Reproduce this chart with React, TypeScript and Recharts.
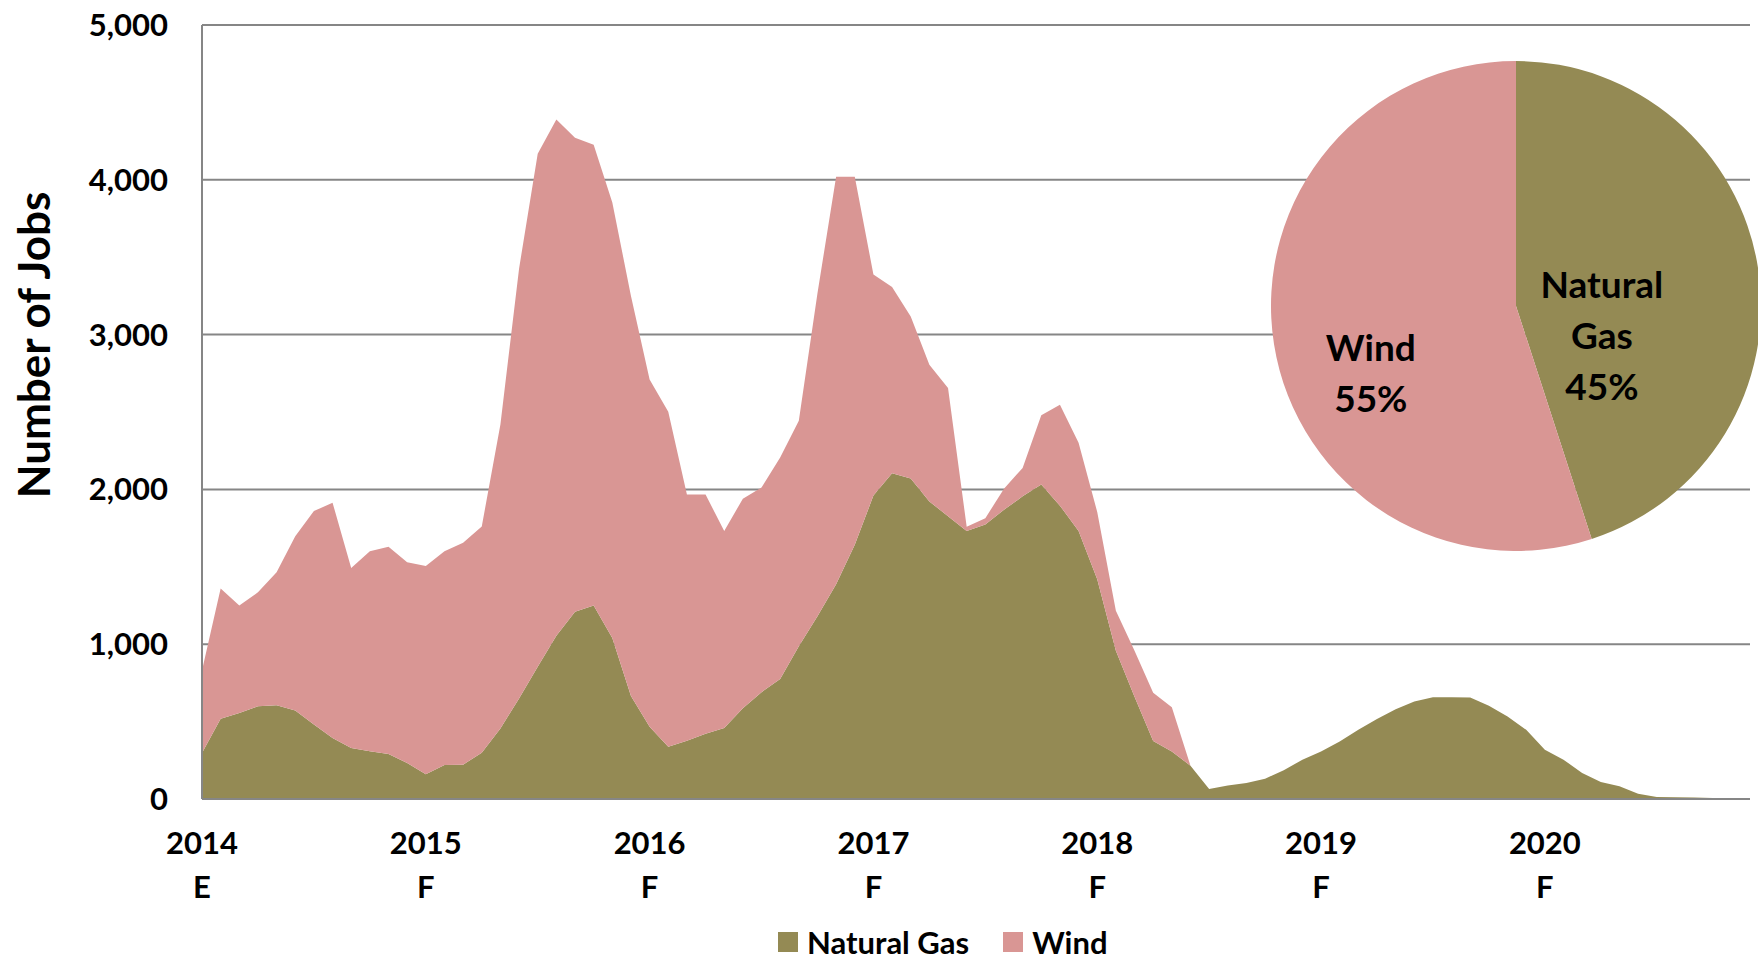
import { Area, AreaChart, CartesianGrid, Cell, Legend, Pie, PieChart, XAxis, YAxis } from 'recharts';

const FONT = 'Lato, "DejaVu Sans", sans-serif';

// category labels
const years = ['2014', '2015', '2016', '2017', '2018', '2019', '2020'];
const yearTags = ['E', 'F', 'F', 'F', 'F', 'F', 'F'];
const monthNames = ['Jan', 'Feb', 'Mar', 'Apr', 'May', 'Jun', 'Jul', 'Aug', 'Sep', 'Oct', 'Nov', 'Dec'];
const yTicks = [0, 1000, 2000, 3000, 4000, 5000];

// monthly jobs, Jan 2014 .. Dec 2020
const naturalGas = [
  297, 519, 556, 599, 606, 571, 481, 394, 330, 308, 291, 233,
  160, 220, 222, 298, 455, 650, 855, 1055, 1210, 1250, 1040, 665,
  466, 337, 376, 422, 458, 586, 690, 776, 987, 1180, 1388, 1642,
  1960, 2104, 2071, 1922, 1827, 1732, 1773, 1868, 1955, 2031, 1895, 1732,
  1420, 958, 660, 375, 307, 215, 65, 88, 103, 131, 185, 254,
  307, 372, 447, 516, 580, 630, 658, 658, 656, 602, 533, 447,
  318, 254, 168, 110, 82, 34, 13, 11, 9, 6, null, null,
];

const wind = [
  533, 841, 694, 736, 859, 1127, 1379, 1520, 1163, 1293, 1338, 1297,
  1345, 1380, 1433, 1462, 1965, 2776, 3313, 3334, 3062, 2977, 2813, 2585,
  2244, 2165, 1591, 1545, 1273, 1354, 1322, 1430, 1456, 2087, 2632, 2378,
  1428, 1203, 1046, 883, 828, 27, 41, 136, 184, 448, 652, 570,
  434, 258, 298, 312, 285, 0, 0, 0, 0, 0, 0, 0,
  0, 0, 0, 0, 0, 0, 0, 0, 0, 0, 0, 0,
  0, 0, 0, 0, 0, 0, 0, 0, 0, 0, null, null,
];

// share of total jobs (inset pie)
const shareNames = ['Natural Gas', 'Wind'];
const shareValues = [45, 55];

const COLORS: Record<string, string> = { 'Natural Gas': '#948A54', Wind: '#D99694' };
const GRID = '#868686';

const months = years.flatMap((y) => monthNames.map((m) => `${m} ${y}`));
const data = months.map((month, i) => ({ month, 'Natural Gas': naturalGas[i], Wind: wind[i] }));
const yearTicks = years.map((y) => `Jan ${y}`);
const pieData = shareNames.map((name, i) => ({ name, value: shareValues[i] }));

function YearTick({ x, y, payload }: any) {
  const idx = yearTicks.indexOf(payload.value);
  const style = { fontFamily: FONT, fontWeight: 700, fontSize: 31, fill: '#000' };
  return (
    <g>
      <text x={x} y={y + 55} textAnchor='middle' {...style}>
        {years[idx]}
      </text>
      <text x={x} y={y + 99} textAnchor='middle' {...style}>
        {yearTags[idx]}
      </text>
    </g>
  );
}

function AxisTitle({ viewBox }: any) {
  const x = viewBox.x + 33;
  const y = viewBox.y + 320;
  return (
    <text
      x={x}
      y={y}
      transform={`rotate(-90 ${x} ${y})`}
      textAnchor='middle'
      dominantBaseline='central'
      fontFamily={FONT}
      fontWeight={700}
      fontSize={44}
      fill='#000'
    >
      Number of Jobs
    </text>
  );
}

function LegendContent({ payload }: any) {
  return (
    <div
      style={{
        display: 'flex',
        alignItems: 'center',
        height: 40,
        paddingTop: 2,
        paddingLeft: 778,
        boxSizing: 'border-box',
        fontFamily: FONT,
        fontWeight: 700,
        fontSize: 31,
        lineHeight: '31px',
        color: '#000',
      }}
    >
      {(payload || []).map((p: any) => (
        <div key={p.value} style={{ display: 'flex', alignItems: 'center', marginRight: 34 }}>
          <span style={{ width: 20, height: 20, background: COLORS[p.value], marginRight: 9 }} />
          <span>{p.value}</span>
        </div>
      ))}
    </div>
  );
}

// how deep into the slice each label sits (fraction of radius)
const labelDepth: Record<string, number> = { 'Natural Gas': 0.355, Wind: 0.6 };

function PieLabel(props: any) {
  const { cx, cy, midAngle, outerRadius, name, percent } = props;
  const RAD = Math.PI / 180;
  const r = outerRadius * labelDepth[name];
  const x = cx + r * Math.cos(-midAngle * RAD);
  const y = cy + r * Math.sin(-midAngle * RAD) + outerRadius * 0.18;
  const lines = [...String(name).split(' '), `${Math.round(percent * 100)}%`];
  const lh = 51;
  const first = y - ((lines.length - 1) * lh) / 2 + 13;
  return (
    <text x={x} y={first} textAnchor='middle' fontFamily={FONT} fontWeight={700} fontSize={37} fill='#000'>
      {lines.map((l, i) => (
        <tspan key={i} x={x} dy={i === 0 ? 0 : lh}>
          {l}
        </tspan>
      ))}
    </text>
  );
}

export default function App() {
  return (
    <div
      style={{
        position: 'absolute',
        left: 0,
        top: 0,
        width: 1758,
        height: 961,
        overflow: 'hidden',
        background: '#fff',
      }}
    >
      <AreaChart width={1758} height={961} data={data} margin={{ top: 25, right: 8, bottom: 0, left: 0 }}>
        <CartesianGrid vertical={false} stroke={GRID} strokeWidth={2} />
        <XAxis
          dataKey='month'
          ticks={yearTicks}
          interval={0}
          height={122}
          tickSize={0}
          tickMargin={0}
          tickLine={false}
          axisLine={{ stroke: GRID, strokeWidth: 2 }}
          tick={<YearTick />}
        />
        <YAxis
          width={202}
          domain={[0, 5000]}
          ticks={yTicks}
          tickSize={0}
          tickMargin={34}
          tickLine={false}
          axisLine={{ stroke: GRID, strokeWidth: 2 }}
          tickFormatter={(v: number) => v.toLocaleString('en-US')}
          tick={{ fontFamily: FONT, fontWeight: 700, fontSize: 31, fill: '#000' }}
          label={<AxisTitle />}
        />
        <Legend verticalAlign='bottom' height={40} wrapperStyle={{ left: 0, width: 1758 }} content={<LegendContent />} />
        <Area
          type='linear'
          dataKey='Natural Gas'
          stackId='jobs'
          stroke='none'
          fill={COLORS['Natural Gas']}
          fillOpacity={1}
          isAnimationActive={false}
        />
        <Area
          type='linear'
          dataKey='Wind'
          stackId='jobs'
          stroke='none'
          fill={COLORS.Wind}
          fillOpacity={1}
          isAnimationActive={false}
        />
      </AreaChart>
      <div style={{ position: 'absolute', left: 1266, top: 56 }}>
        <PieChart width={500} height={500} margin={{ top: 0, right: 0, bottom: 0, left: 0 }}>
          <Pie
            data={pieData}
            dataKey='value'
            nameKey='name'
            cx={250}
            cy={250}
            outerRadius={245}
            startAngle={90}
            endAngle={-270}
            stroke='none'
            label={PieLabel}
            labelLine={false}
            isAnimationActive={false}
          >
            {pieData.map((d) => (
              <Cell key={d.name} fill={COLORS[d.name]} />
            ))}
          </Pie>
        </PieChart>
      </div>
    </div>
  );
}
